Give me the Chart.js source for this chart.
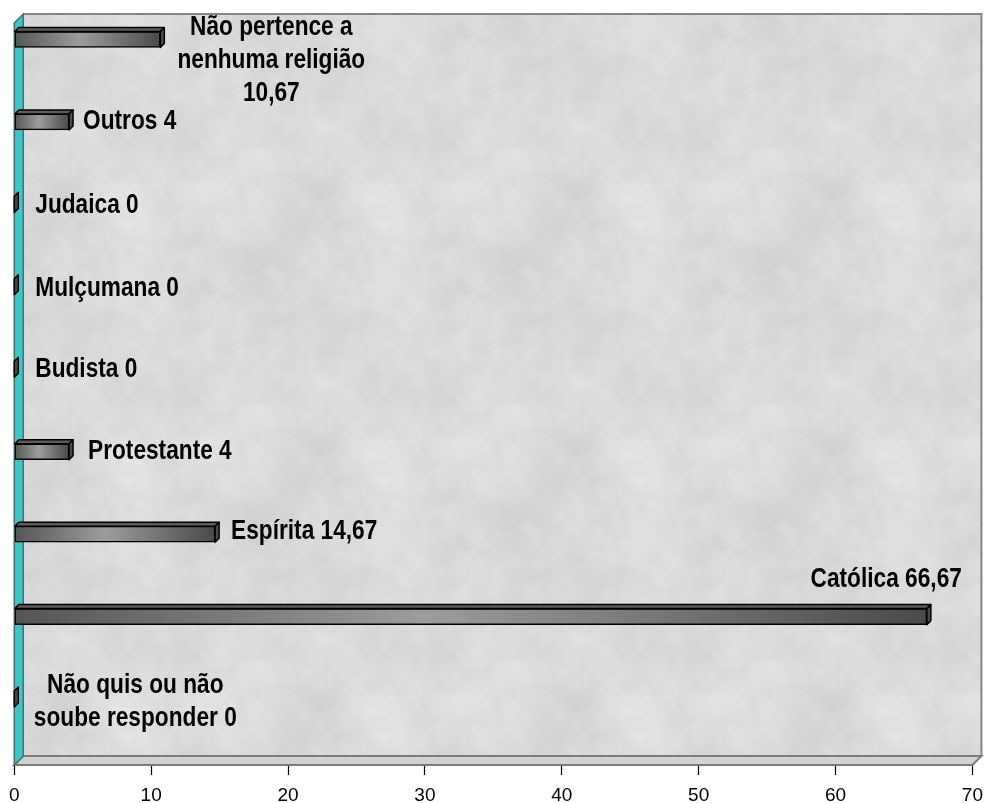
<!DOCTYPE html>
<html lang="pt">
<head>
<meta charset="utf-8">
<title>Religião</title>
<script src="https://cdn.jsdelivr.net/npm/chart.js@4/dist/chart.umd.min.js"></script>
<style>
  html, body { margin: 0; padding: 0; background: #ffffff; }
  canvas { display: block; }
</style>
</head>
<body>
<canvas id="chart" width="992" height="803"></canvas>
<script>
// Categories listed from top to bottom of the chart
const categories = [
  ['Não pertence a', 'nenhuma religião'],
  ['Outros'],
  ['Judaica'],
  ['Mulçumana'],
  ['Budista'],
  ['Protestante'],
  ['Espírita'],
  ['Católica'],
  ['Não quis ou não', 'soube responder']
];
// Percentages
const percentages = [10.67, 4, 0, 0, 0, 4, 14.67, 66.67, 0];
// Value axis ticks
const xTicks = [0, 10, 20, 30, 40, 50, 60, 70];

// Label placement relative to the end of each bar (layout only)
const labelPlacement = [
  { align: 'center', dx: 107, dy: -12, valueOwnLine: true },
  { align: 'left', dx: 10, dy: 0 },
  { align: 'left', dx: 17, dy: 1 },
  { align: 'left', dx: 17, dy: 2 },
  { align: 'left', dx: 17, dy: 0 },
  { align: 'left', dx: 15, dy: 0 },
  { align: 'left', dx: 12, dy: -3 },
  { align: 'right', dx: 31, dy: -37 },
  { align: 'center', dx: 117, dy: -13, valueOwnLine: false }
];

const FONT = '"Liberation Sans", Arial, Helvetica, sans-serif';
const LABEL_SIZE = 27;      // narrow bold label face
const LABEL_NARROW = 0.84;  // horizontal condensing of the label face
const WALL_DEPTH = 9;   // perspective offset of the back wall
const BAR_DEPTH = 4;    // perspective offset of each bar

const fmt = v => String(v).replace('.', ',');

// Tileable mottled texture for the back wall (deterministic value noise)
function makeTexture() {
  const N = 256;
  const c = document.createElement('canvas');
  c.width = N; c.height = N;
  const g = c.getContext('2d');
  const img = g.createImageData(N, N);
  function hash(x, y, s) {
    let h = Math.imul(x, 374761393) ^ Math.imul(y, 668265263) ^ Math.imul(s, 1442695041);
    h = Math.imul(h ^ (h >>> 13), 1274126177);
    h ^= h >>> 16;
    return (h >>> 0) / 4294967295;
  }
  function noise(px, py, cell, s) {
    const n = N / cell;
    const gx = px / cell, gy = py / cell;
    const x0 = Math.floor(gx), y0 = Math.floor(gy);
    const fx = gx - x0, fy = gy - y0;
    const sx = fx * fx * (3 - 2 * fx), sy = fy * fy * (3 - 2 * fy);
    const a = hash(x0 % n, y0 % n, s), b = hash((x0 + 1) % n, y0 % n, s);
    const cc = hash(x0 % n, (y0 + 1) % n, s), d = hash((x0 + 1) % n, (y0 + 1) % n, s);
    return (a + (b - a) * sx) * (1 - sy) + (cc + (d - cc) * sx) * sy;
  }
  const octaves = [[64, 0.3], [32, 0.25], [16, 0.2], [8, 0.15], [4, 0.1]];
  for (let y = 0; y < N; y++) {
    for (let x = 0; x < N; x++) {
      let v = 0;
      octaves.forEach(([cell, w], i) => { v += noise(x, y, cell, i + 1) * w; });
      const grey = Math.round(204 + v * 30);
      const k = (y * N + x) * 4;
      img.data[k] = img.data[k + 1] = img.data[k + 2] = grey;
      img.data[k + 3] = 255;
    }
  }
  g.putImageData(img, 0, 0);
  return c;
}

// Back wall, side wall and floor of the 3D frame
const frame3d = {
  id: 'frame3d',
  beforeDatasetsDraw(chart) {
    const { ctx, chartArea: a } = chart;
    const d = WALL_DEPTH;
    ctx.save();
    // back wall
    ctx.fillStyle = ctx.createPattern(makeTexture(), 'repeat');
    ctx.fillRect(a.left + d, a.top - d, a.right - a.left, a.bottom - a.top);
    ctx.strokeStyle = '#868686';
    ctx.lineWidth = 2;
    ctx.beginPath();
    ctx.moveTo(a.left + d, a.top - d);
    ctx.lineTo(a.right + d, a.top - d);
    ctx.lineTo(a.right + d, a.bottom - d);
    ctx.stroke();
    // floor
    ctx.beginPath();
    ctx.moveTo(a.left, a.bottom);
    ctx.lineTo(a.left + d, a.bottom - d);
    ctx.lineTo(a.right + d, a.bottom - d);
    ctx.lineTo(a.right, a.bottom);
    ctx.closePath();
    ctx.fillStyle = '#d2d2d2';
    ctx.fill();
    ctx.lineWidth = 2;
    ctx.strokeStyle = '#7c7c7c';
    ctx.stroke();
    // side wall
    ctx.beginPath();
    ctx.moveTo(a.left, a.top);
    ctx.lineTo(a.left + d, a.top - d);
    ctx.lineTo(a.left + d, a.bottom - d);
    ctx.lineTo(a.left, a.bottom);
    ctx.closePath();
    ctx.fillStyle = '#36c9c9';
    ctx.fill();
    ctx.lineWidth = 1.5;
    ctx.strokeStyle = '#4a6e6e';
    ctx.stroke();
    ctx.restore();
  }
};

// Top and end faces of each bar
const bars3d = {
  id: 'bars3d',
  afterDatasetsDraw(chart) {
    const { ctx } = chart;
    const d = BAR_DEPTH;
    ctx.save();
    ctx.lineWidth = 1.5;
    ctx.strokeStyle = '#000';
    ctx.lineJoin = 'round';
    chart.getDatasetMeta(0).data.forEach(bar => {
      const { x, y, base, height } = bar.getProps(['x', 'y', 'base', 'height'], true);
      const t = y - height / 2, b = y + height / 2;
      const l = Math.min(x, base), r = Math.max(x, base);
      if (r - l > 0.5) {
        ctx.beginPath();
        ctx.moveTo(l, t);
        ctx.lineTo(l + d, t - d);
        ctx.lineTo(r + d, t - d);
        ctx.lineTo(r, t);
        ctx.closePath();
        ctx.fillStyle = '#5c5c5c';
        ctx.fill();
        ctx.stroke();
      }
      ctx.beginPath();
      ctx.moveTo(r, t);
      ctx.lineTo(r + d, t - d);
      ctx.lineTo(r + d, b - d);
      ctx.lineTo(r, b);
      ctx.closePath();
      ctx.fillStyle = '#4a4a4a';
      ctx.fill();
      ctx.stroke();
    });
    ctx.restore();
  }
};

// Category name and value next to each bar
const barLabels = {
  id: 'barLabels',
  afterDraw(chart) {
    const { ctx } = chart;
    ctx.save();
    ctx.font = 'bold ' + LABEL_SIZE + 'px ' + FONT;
    ctx.fillStyle = '#000';
    ctx.textBaseline = 'middle';
    chart.getDatasetMeta(0).data.forEach((bar, i) => {
      const p = labelPlacement[i];
      const lines = categories[i].slice();
      const val = fmt(percentages[i]);
      if (p.valueOwnLine) lines.push(val);
      else lines[lines.length - 1] += ' ' + val;
      const x0 = Math.max(bar.x, bar.base) + BAR_DEPTH + p.dx;
      const y0 = bar.y + p.dy;
      ctx.textAlign = p.align;
      lines.forEach((line, k) => {
        ctx.save();
        ctx.translate(x0, y0 + k * 33);
        ctx.scale(LABEL_NARROW, 1);
        ctx.fillText(line, 0, 0);
        ctx.restore();
      });
    });
    ctx.restore();
  }
};

new Chart(document.getElementById('chart'), {
  type: 'bar',
  data: {
    datasets: [{
      data: percentages.map((v, i) => ({ x: v, y: i })),
      barThickness: 16,
      borderWidth: 1.5,
      borderColor: '#000',
      borderSkipped: false,
      backgroundColor(c) {
        const chart = c.chart;
        const xs = chart.scales.x;
        if (!xs || !chart.chartArea || !c.raw) return '#666';
        const x0 = xs.getPixelForValue(0);
        const x1 = xs.getPixelForValue(c.raw.x);
        if (x1 - x0 < 1) return '#555';
        const g = chart.ctx.createLinearGradient(x0, 0, x1, 0);
        g.addColorStop(0, '#555555');
        g.addColorStop(0.45, '#9c9c9c');
        g.addColorStop(1, '#4a4a4a');
        return g;
      }
    }]
  },
  options: {
    indexAxis: 'y',
    responsive: false,
    animation: false,
    events: [],
    layout: { padding: { left: 14, right: 13, top: 23, bottom: 0 } },
    plugins: { legend: { display: false }, tooltip: { enabled: false } },
    scales: {
      y: {
        type: 'linear',
        reverse: true,
        offset: false,
        min: -0.2,
        max: 8.8,
        display: false
      },
      x: {
        type: 'linear',
        min: xTicks[0],
        max: xTicks[xTicks.length - 1],
        afterBuildTicks(scale) { scale.ticks = xTicks.map(v => ({ value: v })); },
        afterFit(scale) { scale.height = 38; },
        border: { display: false },
        grid: { drawOnChartArea: false, drawTicks: true, tickLength: 10, tickColor: '#000', tickWidth: 1.2 },
        ticks: {
          padding: 9,
          color: '#000',
          maxRotation: 0,
          font: { family: FONT, size: 19 },
          callback: v => String(v)
        }
      }
    }
  },
  plugins: [frame3d, bars3d, barLabels]
});
</script>
</body>
</html>
